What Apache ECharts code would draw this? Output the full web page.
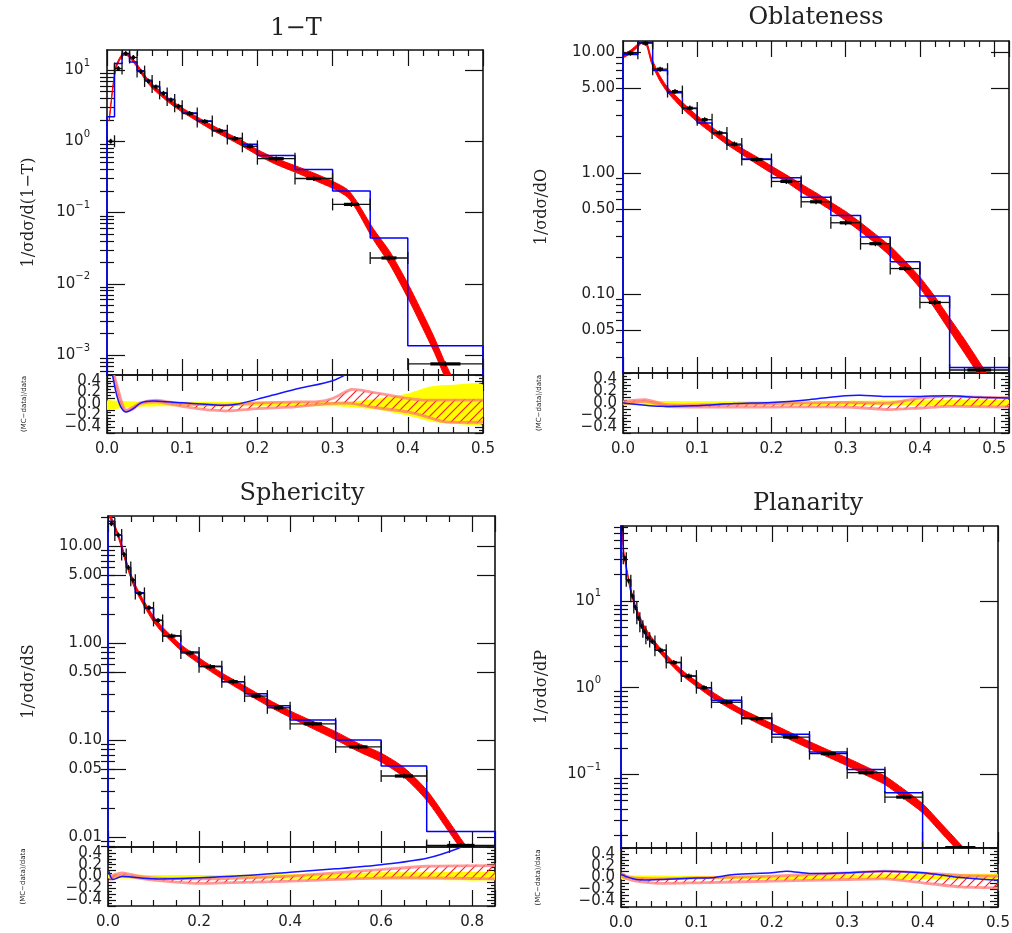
<!DOCTYPE html>
<html><head><meta charset="utf-8">
<script src="https://cdn.jsdelivr.net/npm/echarts@6/dist/echarts.min.js"></script>
<style>html,body{margin:0;padding:0;background:#fff}#c{width:1012px;height:933px}</style>
</head><body><div id="c"></div>
<script>
// ---------------- 1-T ----------------
const tTitle = '1−T', tYName = '1/σdσ/d(1−T)';
const tEdges = [0,0.01,0.02,0.03,0.04,0.05,0.06,0.07,0.08,0.09,0.10,0.12,0.14,0.16,0.18,0.20,0.25,0.30,0.35,0.40,0.50];
const tData  = [1.0,10.5,17,15,9.5,7.0,5.8,4.7,3.8,3.1,2.45,1.9,1.4,1.09,0.85,0.57,0.30,0.13,0.023,0.00075];
const tMC    = [2.2,12.3,17,13,9.8,7.2,5.9,4.8,3.9,3.15,2.5,1.93,1.42,1.1,0.91,0.63,0.40,0.20,0.044,0.00135];
const tThX   = [0.003,0.008,0.012,0.018,0.024,0.03,0.04,0.05,0.06,0.07,0.08,0.09,0.10,0.12,0.14,0.16,0.18,0.20,0.225,0.25,0.275,0.30,0.32,0.332,0.354,0.376,0.40,0.42,0.435,0.45,0.46];
const tThY   = [2.0,6,11,15,17,15.5,11.5,8.0,6.0,4.8,3.9,3.25,2.75,2.05,1.55,1.2,0.93,0.70,0.52,0.41,0.32,0.245,0.185,0.125,0.05,0.023,0.008,0.003,0.0014,0.0006,0.00035];
const tThErr = [0.04,0.04,0.04,0.04,0.04,0.04,0.05,0.06,0.07,0.07,0.07,0.07,0.07,0.07,0.08,0.08,0.09,0.09,0.1,0.11,0.12,0.12,0.13,0.15,0.19,0.23,0.26,0.27,0.27,0.27,0.27];
const tYelX  = [0,0.02,0.05,0.1,0.2,0.3,0.33,0.36,0.40,0.43,0.46,0.5];
const tYelHi = [0.06,0.05,0.04,0.04,0.04,0.04,0.05,0.09,0.18,0.30,0.33,0.33];
const tYelLo = [-0.1,-0.07,-0.045,-0.04,-0.04,-0.04,-0.06,-0.1,-0.2,-0.30,-0.34,-0.34];
const tHatX  = [0.007,0.015,0.02,0.025,0.035,0.045,0.065,0.08,0.10,0.12,0.14,0.16,0.20,0.25,0.28,0.30,0.325,0.35,0.40,0.42,0.45,0.50];
const tHatHi = [0.6,0.24,0.01,-0.107,-0.05,0.02,0.066,0.038,0.01,-0.01,-0.015,-0.02,0.02,0.038,0.04,0.095,0.25,0.21,0.095,0.066,0.066,0.066];
const tHatLo = [0.6,0.12,-0.05,-0.12,-0.08,0.01,0.038,0.01,-0.04,-0.078,-0.107,-0.12,-0.078,-0.05,-0.01,0.01,0.01,-0.05,-0.136,-0.2,-0.31,-0.31];
const tBlueX = [0.006,0.012,0.018,0.025,0.035,0.045,0.06,0.08,0.10,0.15,0.17,0.212,0.256,0.30,0.33];
const tBlueR = [0.6,0.2,-0.04,-0.136,-0.08,0.02,0.05,0.038,0.02,-0.02,-0.01,0.124,0.27,0.40,0.6];
const tYTicks = [0.001,0.01,0.1,1,10];

// ---------------- Oblateness ----------------
const oTitle = 'Oblateness', oYName = '1/σdσ/dO';
const oEdges = [0,0.02,0.04,0.06,0.08,0.10,0.12,0.14,0.16,0.20,0.24,0.28,0.32,0.36,0.40,0.44,0.52];
const oData  = [9.75,11.8,7.2,4.7,3.43,2.75,2.14,1.73,1.29,0.85,0.577,0.387,0.26,0.162,0.085,0.0235];
const oMC    = [9.5,12.0,7.0,4.6,3.4,2.58,2.14,1.70,1.30,0.91,0.63,0.445,0.295,0.184,0.096,0.0247];
const oThX   = [0,0.01,0.02,0.027,0.032,0.038,0.045,0.05,0.06,0.08,0.10,0.12,0.14,0.16,0.18,0.20,0.22,0.24,0.26,0.28,0.30,0.32,0.34,0.36,0.38,0.40,0.42,0.44,0.46,0.48,0.49];
const oThY   = [9.2,10,11.3,12.5,11.6,8.6,6.9,6.0,4.86,3.62,2.8,2.25,1.82,1.51,1.27,1.065,0.9,0.75,0.634,0.53,0.44,0.357,0.286,0.226,0.17,0.124,0.085,0.056,0.037,0.024,0.019];
const oThErr = [0.03,0.03,0.03,0.03,0.04,0.05,0.05,0.05,0.05,0.06,0.06,0.06,0.06,0.06,0.07,0.07,0.07,0.08,0.08,0.08,0.09,0.09,0.09,0.1,0.1,0.11,0.12,0.13,0.14,0.14,0.14];
const oYelX  = [0,0.1,0.2,0.3,0.4,0.52];
const oYelHi = [0.035,0.03,0.03,0.035,0.045,0.05];
const oYelLo = [-0.035,-0.03,-0.03,-0.035,-0.045,-0.05];
const oHatX  = [0,0.03,0.06,0.1,0.2,0.3,0.36,0.4,0.44,0.52];
const oHatHi = [0.028,0.056,-0.028,-0.033,-0.01,0.01,0.0,0.083,0.11,0.083];
const oHatLo = [-0.01,0.028,-0.056,-0.067,-0.067,-0.067,-0.11,-0.083,-0.056,-0.067];
const oBlueX = [0,0.05,0.1,0.15,0.2,0.25,0.3,0.32,0.35,0.4,0.44,0.48,0.52];
const oBlueR = [0,-0.056,-0.044,-0.01,0.01,0.056,0.12,0.128,0.11,0.11,0.12,0.094,0.083];
const oYTicks = [0.05,0.1,0.5,1,5,10];

// ---------------- Sphericity ----------------
const sTitle = 'Sphericity', sYName = '1/σdσ/dS';
const sEdges = [0,0.015,0.03,0.04,0.05,0.06,0.08,0.10,0.12,0.16,0.20,0.25,0.30,0.35,0.40,0.50,0.60,0.70,0.85];
const sData  = [17,13,8.2,6.0,4.45,3.25,2.31,1.71,1.18,0.79,0.57,0.40,0.284,0.215,0.147,0.085,0.0426,0.0082];
const sMC    = [18,13,8.3,6.0,4.5,3.3,2.3,1.72,1.19,0.81,0.575,0.40,0.30,0.226,0.161,0.10,0.054,0.0114];
const sThX   = [0.003,0.012,0.022,0.03,0.04,0.05,0.06,0.08,0.10,0.12,0.14,0.16,0.20,0.25,0.30,0.35,0.40,0.45,0.50,0.55,0.60,0.65,0.70,0.75,0.775,0.785];
const sThY   = [21,17,13,9.9,6.8,4.95,3.75,2.52,1.77,1.36,1.1,0.9,0.657,0.46,0.335,0.245,0.185,0.143,0.111,0.084,0.066,0.0465,0.027,0.0126,0.0085,0.0072];
const sThErr = [0.04,0.04,0.04,0.05,0.05,0.06,0.06,0.06,0.07,0.07,0.07,0.07,0.07,0.07,0.08,0.08,0.08,0.09,0.1,0.1,0.11,0.12,0.13,0.13,0.13,0.13];
const sYelX  = [0,0.1,0.3,0.5,0.6,0.7,0.85];
const sYelHi = [0.03,0.025,0.03,0.05,0.07,0.07,0.07];
const sYelLo = [-0.03,-0.03,-0.035,-0.05,-0.06,-0.06,-0.06];
const sHatX  = [0.003,0.015,0.03,0.05,0.07,0.1,0.15,0.2,0.25,0.3,0.4,0.5,0.6,0.7,0.85];
const sHatHi = [0,0.034,0.062,0.034,0,-0.022,-0.035,-0.04,-0.04,-0.022,0.006,0.062,0.118,0.174,0.185];
const sHatLo = [-0.05,-0.01,0.017,-0.006,-0.03,-0.062,-0.096,-0.118,-0.107,-0.1,-0.079,-0.05,-0.022,-0.022,-0.04];
const sBlueX = [0.002,0.01,0.03,0.1,0.2,0.3,0.4,0.5,0.6,0.7,0.77,0.8];
const sBlueR = [0.09,-0.05,0,-0.04,-0.022,0.017,0.073,0.13,0.2,0.31,0.48,0.6];
const sYTicks = [0.01,0.05,0.1,0.5,1,5,10];

// ---------------- Planarity ----------------
const pTitle = 'Planarity', pYName = '1/σdσ/dP';
const pEdges = [0,0.003,0.007,0.013,0.017,0.021,0.025,0.029,0.033,0.038,0.045,0.06,0.08,0.10,0.12,0.16,0.20,0.25,0.30,0.35,0.40,0.50];
const pData  = [68,31,17,11.3,8.4,6.3,5.1,4.4,3.7,3.4,2.7,1.95,1.36,1.0,0.68,0.44,0.27,0.174,0.105,0.055,0.0144];
const pMC    = [75,32,17.5,11.5,8.5,6.4,5.2,4.4,3.75,3.4,2.7,1.95,1.36,1.0,0.715,0.452,0.291,0.182,0.114,0.0616,0.012];
const pThX   = [0.001,0.004,0.008,0.012,0.016,0.02,0.03,0.04,0.05,0.06,0.08,0.10,0.12,0.14,0.16,0.18,0.20,0.225,0.25,0.275,0.30,0.325,0.35,0.375,0.40,0.425,0.45,0.46];
const pThY   = [75,34,22,14.3,10.5,8.1,5.0,3.66,2.8,2.25,1.51,1.11,0.84,0.655,0.525,0.43,0.354,0.276,0.218,0.174,0.14,0.11,0.086,0.06,0.041,0.024,0.014,0.011];
const pThErr = [0.04,0.04,0.04,0.05,0.05,0.05,0.06,0.06,0.07,0.07,0.07,0.07,0.08,0.08,0.08,0.09,0.09,0.1,0.1,0.1,0.11,0.12,0.12,0.13,0.13,0.13,0.13,0.13];
const pYelX  = [0,0.1,0.25,0.3,0.4,0.5];
const pYelHi = [0.03,0.03,0.035,0.05,0.055,0.055];
const pYelLo = [-0.03,-0.03,-0.03,-0.025,-0.025,-0.025];
const pHatX  = [0,0.01,0.02,0.05,0.1,0.2,0.3,0.35,0.4,0.45,0.5];
const pHatHi = [0.068,0.01,-0.01,-0.023,-0.006,0.023,0.08,0.108,0.08,0.034,0.023];
const pHatLo = [0.023,-0.03,-0.062,-0.1,-0.09,-0.062,-0.034,-0.023,-0.09,-0.16,-0.176];
const pBlueX = [0,0.02,0.05,0.1,0.12,0.15,0.2,0.22,0.25,0.3,0.35,0.4,0.45,0.5];
const pBlueR = [0.05,-0.034,-0.034,-0.01,-0.006,0.05,0.08,0.108,0.068,0.08,0.108,0.08,0,-0.045];
const pYTicks = [0.1,1,10];

const ratioName = '(MC−data)/data';

// ---------------- layout / styles ----------------
const panels = [
  {title:tTitle, yname:tYName, edges:tEdges, data:tData, mc:tMC, thX:tThX, thY:tThY, thE:tThErr, yelX:tYelX, yelHi:tYelHi, yelLo:tYelLo, hatX:tHatX, hatHi:tHatHi, hatLo:tHatLo, bX:tBlueX, bR:tBlueR, yTicks:tYTicks, pow:true, leftMinor:true,
   box:{left:107, top:50, width:376, height:325}, rh:58, xmax:0.5, xint:0.1, xminor:5, ymin:5.24e-4, ymax:19.1, lm:17, ng:70, rng:79, tpos:[296,17]},
  {title:oTitle, yname:oYName, edges:oEdges, data:oData, mc:oMC, thX:oThX, thY:oThY, thE:oThErr, yelX:oYelX, yelHi:oYelHi, yelLo:oYelLo, hatX:oHatX, hatHi:oHatHi, hatLo:oHatLo, bX:oBlueX, bR:oBlueR, yTicks:oYTicks, pow:false, leftMinor:false,
   box:{left:623, top:41, width:386, height:332}, rh:60, xmax:0.52, xint:0.1, xminor:5, ymin:0.0222, ymax:12.3, lm:8, ng:73, rng:80, tpos:[816,6]},
  {title:sTitle, yname:sYName, edges:sEdges, data:sData, mc:sMC, thX:sThX, thY:sThY, thE:sThErr, yelX:sYelX, yelHi:sYelHi, yelLo:sYelLo, hatX:sHatX, hatHi:sHatHi, hatLo:sHatLo, bX:sBlueX, bR:sBlueR, yTicks:sYTicks, pow:false, leftMinor:true,
   box:{left:108, top:516, width:387, height:331}, rh:59, xmax:0.85, xint:0.2, xminor:4, ymin:0.0079, ymax:20.4, lm:6, ng:71, rng:81, tpos:[302,482]},
  {title:pTitle, yname:pYName, edges:pEdges, data:pData, mc:pMC, thX:pThX, thY:pThY, thE:pThErr, yelX:pYelX, yelHi:pYelHi, yelLo:pYelLo, hatX:pHatX, hatHi:pHatHi, hatLo:pHatLo, bX:pBlueX, bR:pBlueR, yTicks:pYTicks, pow:true, leftMinor:true,
   box:{left:621, top:526, width:377, height:322}, rh:59, xmax:0.5, xint:0.1, xminor:5, ymin:0.01426, ymax:72.8, lm:20, ng:71, rng:79, tpos:[808,492]}
];

const INK = '#111';
const labelFont = {fontFamily:'DejaVu Sans', fontSize:15, color:'#222'};
const tickLS = {color:INK, width:1.2};
const axisLine = {show:true, onZero:false, lineStyle:{color:INK, width:1.6}};

function minorLogTicks(min, max) {
  const out = [];
  for (let e = Math.floor(Math.log10(min)); e <= Math.ceil(Math.log10(max)); e++) {
    for (let m = 2; m <= 9; m++) { const v = m * Math.pow(10, e); if (v > min && v < max) out.push(v); }
  }
  return out;
}
function powLabel(v) {
  const e = Math.round(Math.log10(v));
  return '{b|10}{s|' + (e < 0 ? '−' + (-e) : String(e)) + '}';
}
function fixedLabel(v) { return v.toFixed(2); }
function ratioLabel(v) {
  const k = Math.round(v * 10);
  if (k % 2 !== 0 || Math.abs(k) > 4) return '';
  return (k < 0 ? '−' : '') + (Math.abs(k) / 10).toFixed(1);
}

function makeHatch() {
  const c = document.createElement('canvas'); c.width = 9; c.height = 9;
  const g = c.getContext('2d');
  g.strokeStyle = '#ff1a1a'; g.lineWidth = 1.1;
  g.beginPath();
  g.moveTo(-1, 10); g.lineTo(10, -1);
  g.moveTo(-5.5, 5.5); g.lineTo(5.5, -5.5);
  g.moveTo(3.5, 14.5); g.lineTo(14.5, 3.5);
  g.stroke();
  return c;
}
const hatch = makeHatch();

const grids = [], xAxes = [], yAxes = [], series = [], titles = [];

function bandSeries(xi, yi, xs, lo, hi, style, smooth, z) {
  return {type:'custom', xAxisIndex:xi, yAxisIndex:yi, clip:true, silent:true, z:z,
    data:[[xs[0], hi[0]]], encode:{x:0, y:1},
    renderItem: (params, api) => {
      const top = xs.map((x, i) => api.coord([x, hi[i]]));
      const bot = xs.map((x, i) => api.coord([x, lo[i]])).reverse();
      return {type:'polygon', shape:{points: top.concat(bot), smooth: smooth || 0}, style: style};
    }};
}
function curveSeries(xi, yi, xs, ys, style, smooth, z) {
  return {type:'custom', xAxisIndex:xi, yAxisIndex:yi, clip:true, silent:true, z:z,
    data:[[xs[0], ys[0]]], encode:{x:0, y:1},
    renderItem: (params, api) => {
      const pts = xs.map((x, i) => api.coord([x, ys[i]]));
      return {type:'polyline', shape:{points: pts, smooth: smooth || 0}, style: Object.assign({fill:'none'}, style)};
    }};
}
function dataSeries(xi, yi, edges, vals) {
  const d = vals.map((v, i) => [edges[i], edges[i + 1], v]);
  return {type:'custom', xAxisIndex:xi, yAxisIndex:yi, clip:true, silent:true, z:5,
    data:d, encode:{x:[0, 1], y:2},
    renderItem: (params, api) => {
      const p0 = api.coord([api.value(0), api.value(2)]);
      const p1 = api.coord([api.value(1), api.value(2)]);
      const cx = (p0[0] + p1[0]) / 2, w = p1[0] - p0[0], y = p0[1];
      const ls = {stroke:INK, lineWidth:1.3};
      return {type:'group', children:[
        {type:'line', shape:{x1:p0[0], y1:y, x2:p1[0], y2:y}, style:ls},
        {type:'line', shape:{x1:p0[0], y1:y - 6, x2:p0[0], y2:y + 6}, style:ls},
        {type:'line', shape:{x1:p1[0], y1:y - 6, x2:p1[0], y2:y + 6}, style:ls},
        {type:'line', shape:{x1:cx - w * 0.2, y1:y, x2:cx + w * 0.2, y2:y}, style:{stroke:'#000', lineWidth:3.2}},
        {type:'line', shape:{x1:cx, y1:y - 2.5, x2:cx, y2:y + 2.5}, style:{stroke:'#000', lineWidth:1.3}}
      ]};
    }};
}
function histSeries(xi, yi, edges, vals, floor) {
  const d = [[edges[0], floor]];
  vals.forEach((v, i) => d.push([edges[i], v]));
  d.push([edges[edges.length - 1], vals[vals.length - 1]]);
  d.push([edges[edges.length - 1], floor]);
  return {type:'line', xAxisIndex:xi, yAxisIndex:yi, step:'end', data:d, symbol:'none', showSymbol:false, silent:true, z:4, clip:true,
    lineStyle:{color:'#0000ff', width:1.5}};
}

panels.forEach((P) => {
  const B = P.box;
  const gm = grids.length;
  grids.push({left:B.left, top:B.top, width:B.width, height:B.height, containLabel:false, outerBoundsMode:'none'});
  const gr = grids.length;
  grids.push({left:B.left, top:B.top + B.height, width:B.width, height:P.rh, containLabel:false, outerBoundsMode:'none'});

  const xBase = {type:'value', min:0, max:P.xmax, interval:P.xint, splitLine:{show:false}, axisLine:axisLine,
    axisTick:{show:true, inside:true, length:16, lineStyle:tickLS},
    minorTick:{show:true, splitNumber:P.xminor, length:6, lineStyle:tickLS}, axisLabel:{show:false}};
  const xm = xAxes.length;
  xAxes.push(Object.assign({}, xBase, {gridIndex:gm, position:'bottom'}));
  xAxes.push(Object.assign({}, xBase, {gridIndex:gm, position:'top'}));
  const xr = xAxes.length;
  const exactMax = Math.abs(P.xmax / P.xint - Math.round(P.xmax / P.xint)) < 1e-6;
  xAxes.push(Object.assign({}, xBase, {gridIndex:gr, position:'bottom',
    axisLabel:Object.assign({show:true, margin:9, showMaxLabel:exactMax, formatter: v => v.toFixed(1)}, labelFont)}));
  xAxes.push(Object.assign({}, xBase, {gridIndex:gr, position:'top'}));

  const minors = minorLogTicks(P.ymin, P.ymax);
  const yLogBase = {type:'log', logBase:10, min:P.ymin, max:P.ymax, gridIndex:gm, splitLine:{show:false}};
  const ym = yAxes.length;
  yAxes.push(Object.assign({}, yLogBase, {position:'left', axisLine:axisLine,
    axisTick:{show:true, inside:true, length:18, lineStyle:tickLS, customValues:P.yTicks},
    axisLabel:Object.assign({show:true, margin:P.lm, customValues:P.yTicks, formatter: P.pow ? powLabel : fixedLabel,
      rich:{b:{fontFamily:'DejaVu Sans', fontSize:15, color:'#222', lineHeight:24}, s:{fontFamily:'DejaVu Sans', fontSize:10, color:'#222', verticalAlign:'top'}}}, labelFont),
    name:P.yname, nameLocation:'middle', nameGap:P.ng, nameRotate:90,
    nameTextStyle:{fontFamily:'DejaVu Serif', fontSize:16, color:'#222'}}));
  yAxes.push(Object.assign({}, yLogBase, {position:'left', axisLine:{show:false},
    axisTick:{show:P.leftMinor, inside:true, length:7, lineStyle:tickLS, customValues:minors}, axisLabel:{show:false}}));
  yAxes.push(Object.assign({}, yLogBase, {position:'right', axisLine:axisLine,
    axisTick:{show:true, inside:true, length:18, lineStyle:tickLS, customValues:P.yTicks}, axisLabel:{show:false}}));
  yAxes.push(Object.assign({}, yLogBase, {position:'right', axisLine:{show:false},
    axisTick:{show:true, inside:true, length:7, lineStyle:tickLS, customValues:minors}, axisLabel:{show:false}}));

  const yRatioBase = {type:'value', min:-0.5, max:0.5, interval:0.1, gridIndex:gr, splitLine:{show:false}, axisLine:axisLine,
    axisTick:{show:true, inside:true, length:8, lineStyle:tickLS}, minorTick:{show:true, splitNumber:2, length:4, lineStyle:tickLS}};
  const yr = yAxes.length;
  yAxes.push(Object.assign({}, yRatioBase, {position:'left',
    axisLabel:Object.assign({show:true, margin:6, formatter:ratioLabel}, labelFont),
    name:ratioName, nameLocation:'middle', nameGap:P.rng, nameRotate:90,
    nameTextStyle:{fontFamily:'DejaVu Sans', fontSize:7, color:'#222'}}));
  yAxes.push(Object.assign({}, yRatioBase, {position:'right', axisLabel:{show:false}}));

  titles.push({text:P.title, left:P.tpos[0], top:P.tpos[1], textAlign:'center', padding:0,
    textStyle:{fontFamily:'DejaVu Serif', fontSize:24, fontWeight:'normal', color:'#222'}});

  // main panel series
  const thLo = P.thY.map((v, i) => v / (1 + P.thE[i]));
  const thHi = P.thY.map((v, i) => v * (1 + P.thE[i]));
  series.push(bandSeries(xm, ym, P.thX, thLo, thHi, {fill:'#ff0000', stroke:'#ff0000', lineWidth:1}, 0.25, 2));
  series.push(histSeries(xm, ym, P.edges, P.mc, P.ymin / 100));
  series.push(dataSeries(xm, ym, P.edges, P.data));

  // ratio series
  series.push(bandSeries(xr, yr, P.yelX, P.yelLo, P.yelHi, {fill:'#ffff00'}, 0.2, 2));
  series.push(bandSeries(xr, yr, P.hatX, P.hatLo, P.hatHi, {fill:{image:hatch, repeat:'repeat'}}, 0.2, 3));
  series.push(curveSeries(xr, yr, P.hatX, P.hatHi, {stroke:'rgba(255,120,120,0.75)', lineWidth:2.8}, 0.2, 3));
  series.push(curveSeries(xr, yr, P.hatX, P.hatLo, {stroke:'rgba(255,120,120,0.75)', lineWidth:2.8}, 0.2, 3));
  series.push(curveSeries(xr, yr, P.bX, P.bR, {stroke:'#1515ff', lineWidth:1.5}, 0.3, 4));
});

const chart = echarts.init(document.getElementById('c'), null, {renderer:'canvas', width:1012, height:933});
chart.setOption({
  animation:false,
  backgroundColor:'#ffffff',
  title:titles,
  grid:grids,
  xAxis:xAxes,
  yAxis:yAxes,
  series:series
});
</script>
</body></html>
